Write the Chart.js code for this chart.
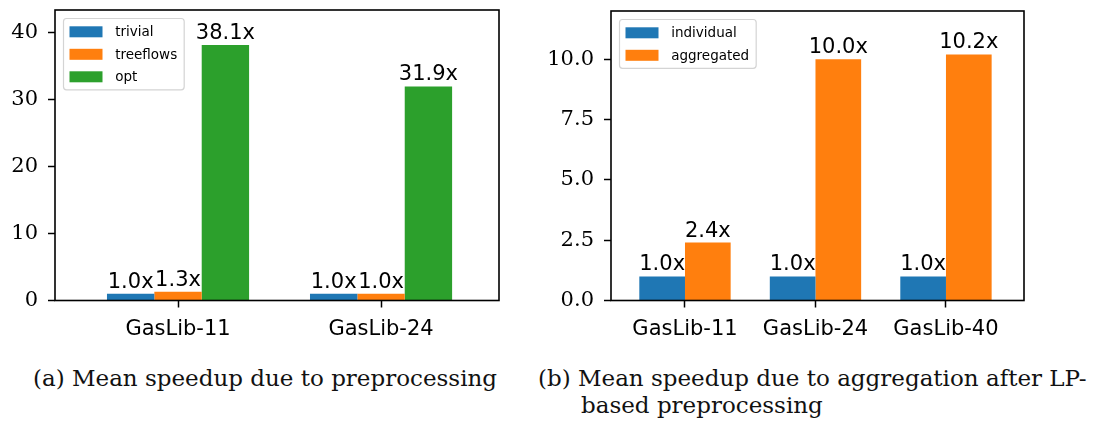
<!DOCTYPE html>
<html>
<head>
<meta charset="utf-8">
<script src="https://cdn.jsdelivr.net/npm/chart.js@4.4.1/dist/chart.umd.min.js"></script>
<style>
  html, body { margin: 0; padding: 0; background: #fff; }
  #page { position: relative; width: 1101px; height: 424px; overflow: hidden; }
  .box { position: absolute; top: 0; height: 340px; }
  .cap { position: absolute; font-family: "DejaVu Serif"; font-size: 23px; color: #111; white-space: nowrap; line-height: 1; }
</style>
</head>
<body>
<div id="page">
  <div class="box" style="left:0;width:520px"><canvas id="pre" width="520" height="340"></canvas></div>
  <div class="box" style="left:520px;width:581px"><canvas id="agg" width="581" height="340"></canvas></div>
  <div class="cap" style="left:33px;top:367px">(a) Mean speedup due to preprocessing</div>
  <div class="cap" style="left:538px;top:367px">(b) Mean speedup due to aggregation after LP-</div>
  <div class="cap" style="left:581px;top:394px">based preprocessing</div>
</div>
<script>
// (a) preprocessing
const preCategories = ['GasLib-11', 'GasLib-24'];
const trivial = [1.0, 1.0];
const treeflows = [1.3, 1.0];
const opt = [38.1, 31.9];
const preYTicks = [0, 10, 20, 30, 40];

// (b) aggregation
const aggCategories = ['GasLib-11', 'GasLib-24', 'GasLib-40'];
const individual = [1.0, 1.0, 1.0];
const aggregated = [2.4, 10.0, 10.2];
const aggYTicks = [0, 2.5, 5, 7.5, 10];

const colors = ['#1f77b4', '#ff7f0e', '#2ca02c'];

// black box around the plot area, like matplotlib spines
const frame = {
  id: 'frame',
  afterDatasetsDraw(chart) {
    const { ctx, chartArea: a } = chart;
    ctx.save();
    ctx.strokeStyle = '#000';
    ctx.lineWidth = 1.6;
    ctx.strokeRect(a.left, a.top, a.right - a.left, a.bottom - a.top);
    ctx.restore();
  }
};

// "38.1x" style value labels above each bar
const barLabels = {
  id: 'barLabels',
  afterDatasetsDraw(chart) {
    const ctx = chart.ctx;
    ctx.save();
    ctx.font = '21px "DejaVu Sans"';
    ctx.fillStyle = '#000';
    ctx.textAlign = 'center';
    ctx.textBaseline = 'alphabetic';
    chart.data.datasets.forEach((ds, i) => {
      chart.getDatasetMeta(i).data.forEach((bar, j) => {
        ctx.fillText(ds.data[j].y.toFixed(1) + 'x', bar.x, bar.y - 6);
      });
    });
    ctx.restore();
  }
};

// legend box in the upper left corner of the plot area
const insideLegend = {
  id: 'insideLegend',
  afterDraw(chart) {
    const { ctx, chartArea } = chart;
    const items = chart.data.datasets;
    ctx.save();
    ctx.font = '13.5px "DejaVu Sans"';
    const textW = Math.max(...items.map(d => ctx.measureText(d.label).width));
    const x = chartArea.left + 8.5;
    const y = chartArea.top + 8.5;
    const rowH = 22.5;
    const w = 51.7 + textW + 7;
    const h = 13.3 + (items.length - 1) * rowH + 13;
    ctx.beginPath();
    ctx.roundRect(x, y, w, h, 3);
    ctx.fillStyle = 'rgba(255,255,255,0.8)';
    ctx.fill();
    ctx.strokeStyle = '#d4d4d4';
    ctx.lineWidth = 1.2;
    ctx.stroke();
    ctx.textBaseline = 'middle';
    items.forEach((d, i) => {
      const cy = y + 13.3 + i * rowH;
      ctx.fillStyle = d.backgroundColor;
      ctx.fillRect(x + 6, cy - 5.5, 33, 11);
      ctx.fillStyle = '#000';
      ctx.fillText(d.label, x + 51.7, cy + 1);
    });
    ctx.restore();
  }
};

function makeChart(id, categories, series, yTicks, cfg) {
  const datasets = series.map((s, i) => ({
    label: s.label,
    data: s.values.map((v, j) => ({ x: j, y: v })),
    backgroundColor: colors[i],
    borderWidth: 0,
    categoryPercentage: 0.7,
    barPercentage: 1.0
  }));
  return new Chart(document.getElementById(id), {
    type: 'bar',
    data: { datasets },
    options: {
      responsive: false,
      animation: false,
      layout: { padding: { top: cfg.padTop, right: cfg.padRight, left: 0, bottom: 0 } },
      plugins: { legend: { display: false }, tooltip: { enabled: false } },
      scales: {
        x: {
          type: 'linear',
          offset: false,
          min: cfg.xMin,
          max: cfg.xMax,
          grid: { offset: false, drawOnChartArea: false, drawTicks: true, tickLength: 7, tickWidth: 1.5, tickColor: '#000' },
          border: { display: false },
          afterBuildTicks: (scale) => { scale.ticks = categories.map((c, j) => ({ value: j })); },
          afterFit: (scale) => {
            scale.height = 39.5;
            scale.paddingLeft = 0; scale.paddingRight = 0;
          },
          ticks: {
            autoSkip: false,
            maxRotation: 0,
            padding: 9,
            color: '#000',
            font: { family: 'DejaVu Sans', size: 21 },
            callback: (v, j) => categories[j]
          }
        },
        y: {
          min: 0,
          max: cfg.yMax,
          grid: { drawOnChartArea: false, drawTicks: true, tickLength: 7, tickWidth: 1.5, tickColor: '#000' },
          border: { display: false },
          afterBuildTicks: (scale) => { scale.ticks = yTicks.map(v => ({ value: v })); },
          afterFit: (scale) => {
            scale.width = cfg.yWidth;
            scale.paddingTop = 0; scale.paddingBottom = 0;
          },
          ticks: {
            padding: 10,
            color: '#000',
            font: { family: 'DejaVu Serif', size: 21 },
            callback: (v) => v.toFixed(cfg.yDecimals)
          }
        }
      }
    },
    plugins: [frame, barLabels, insideLegend]
  });
}

makeChart('pre', preCategories, [
  { label: 'trivial', values: trivial },
  { label: 'treeflows', values: treeflows },
  { label: 'opt', values: opt }
], preYTicks, { xMin: -0.606, xMax: 1.581, yMax: 43.3, yWidth: 55, padTop: 10, padRight: 21, yDecimals: 0 });

makeChart('agg', aggCategories, [
  { label: 'individual', values: individual },
  { label: 'aggregated', values: aggregated }
], aggYTicks, { xMin: -0.567, xMax: 2.598, yMax: 12.0, yWidth: 91, padTop: 11, padRight: 77, yDecimals: 1 });
</script>
</body>
</html>
